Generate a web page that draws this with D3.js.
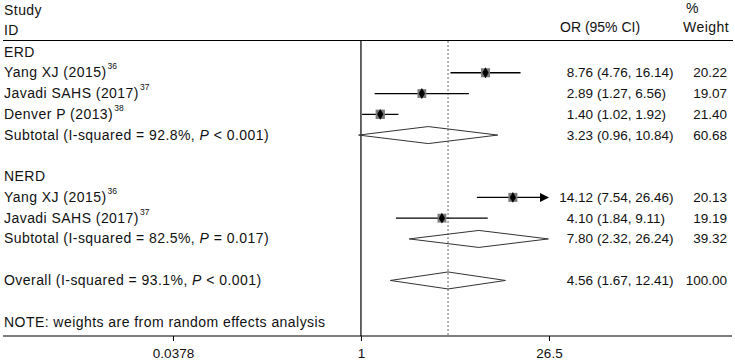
<!DOCTYPE html>
<html>
<head>
<meta charset="utf-8">
<script src="https://cdn.jsdelivr.net/npm/d3@7"></script>
<style>
  body { margin: 0; background: #fff; }
  svg text { font-family: "Liberation Sans", Arial, sans-serif; font-size: 14px; fill: #111; }
  .lbl { letter-spacing: 0.45px; }
  .num { font-size: 13.5px; }
</style>
</head>
<body>
<div class="content"></div>
<script>
const SVGWIDTH = 735
const SVGHEIGHT = 360

// row labels (row index = position from top, blank rows left out)
const rowIndex = [0, 1, 2, 3, 4, 6, 7, 8, 9, 11, 13];
const rowLabels = ["ERD", "Yang XJ (2015)", "Javadi SAHS (2017)", "Denver P (2013)",
  "Subtotal (I-squared = 92.8%, ", "NERD", "Yang XJ (2015)", "Javadi SAHS (2017)",
  "Subtotal (I-squared = 82.5%, ", "Overall (I-squared = 93.1%, ",
  "NOTE: weights are from random effects analysis"];
const rowRefs = ["", "36", "37", "38", "", "", "36", "37", "", "", ""];
const rowPText = ["", "", "", "", " < 0.001)", "", "", "", " = 0.017)", " < 0.001)", ""];
// "study" | "pooled" | "header" | "note"
const rowType = ["header", "study", "study", "study", "pooled", "header", "study", "study", "pooled", "pooled", "note"];

// estimates
const orEst = [null, 8.76, 2.89, 1.40, 3.23, null, 14.12, 4.10, 7.80, 4.56, null];
const orLow = [null, 4.76, 1.27, 1.02, 0.96, null, 7.54, 1.84, 2.32, 1.67, null];
const orHigh = [null, 16.14, 6.56, 1.92, 10.84, null, 26.46, 9.11, 26.24, 12.41, null];
// CI drawn with an arrow (runs past the plotted range)
const ciArrow = [false, false, false, false, false, false, true, false, false, false, false];
const orText = ["", "8.76", "2.89", "1.40", "3.23", "", "14.12", "4.10", "7.80", "4.56", ""];
const ciText = ["", "(4.76, 16.14)", "(1.27, 6.56)", "(1.02, 1.92)", "(0.96, 10.84)", "",
  "(7.54, 26.46)", "(1.84, 9.11)", "(2.32, 26.24)", "(1.67, 12.41)", ""];
const weights = ["", "20.22", "19.07", "21.40", "60.68", "", "20.13", "19.19", "39.32", "100.00", ""];

const xTicks = [0.0378, 1, 26.5];
const xTickLabels = ["0.0378", "1", "26.5"];
const overallOR = 4.56;

const svg = d3.select(".content").append("svg")
  .attr("width", SVGWIDTH).attr("height", SVGHEIGHT);

const xscale = d3.scaleLog().domain([0.0378, 26.5]).range([173, 549]);
const yscale = d3.scaleLinear().domain([0, 13]).range([52, 322]);

const rows = rowIndex.map((r, i) => ({
  r: r, label: rowLabels[i], ref: rowRefs[i], ptext: rowPText[i], type: rowType[i],
  est: orEst[i], lo: orLow[i], hi: orHigh[i], arrow: ciArrow[i],
  estText: orText[i], ci: ciText[i], w: weights[i]
}));

// column headers
const hdr = svg.append("g");
hdr.append("text").attr("class", "lbl").attr("x", 4).attr("y", 15).text("Study");
hdr.append("text").attr("class", "lbl").attr("x", 4).attr("y", 35).text("ID");
hdr.append("text").attr("x", 560).attr("y", 32).text("OR (95% CI)");
hdr.append("text").attr("x", 686).attr("y", 13).text("%");
hdr.append("text").attr("class", "lbl").attr("x", 683).attr("y", 32).text("Weight");

// frame lines
svg.append("line").attr("x1", 3).attr("x2", 733).attr("y1", 40.5).attr("y2", 40.5)
  .attr("stroke", "#000").attr("stroke-width", 1.2);
svg.append("line").attr("x1", xscale(1)).attr("x2", xscale(1)).attr("y1", 40).attr("y2", 336)
  .attr("stroke", "#000").attr("stroke-width", 1.2);
svg.append("line").attr("x1", xscale(overallOR)).attr("x2", xscale(overallOR)).attr("y1", 41).attr("y2", 336)
  .attr("stroke", "#666").attr("stroke-width", 1).attr("stroke-dasharray", "2,2");

// x axis
const xaxis = d3.axisBottom(xscale).tickValues(xTicks).tickSize(5)
  .tickFormat((d, i) => xTickLabels[i]);
const axg = svg.append("g").attr("transform", "translate(0,336)").call(xaxis);
axg.select(".domain").remove();
axg.selectAll(".tick line").attr("stroke", "#000");
axg.selectAll(".tick text").attr("dy", "1.05em").style("font-size", "13.5px")
  .style("font-family", "'Liberation Sans', Arial, sans-serif").attr("fill", "#111");
svg.append("line").attr("x1", 3).attr("x2", 732).attr("y1", 336).attr("y2", 336)
  .attr("stroke", "#000").attr("stroke-width", 1.2);

// left labels
const lab = svg.append("g").selectAll("text").data(rows).join("text")
  .attr("class", "lbl")
  .attr("x", 4).attr("y", d => yscale(d.r) + 4.5);
lab.append("tspan").text(d => d.label);
lab.filter(d => d.ptext !== "").append("tspan").style("font-style", "italic").text("P");
lab.filter(d => d.ptext !== "").append("tspan").text(d => d.ptext);
lab.filter(d => d.ref !== "").append("tspan")
  .attr("dy", -8).attr("dx", 1).style("font-size", "8.5px").style("letter-spacing", "0px").text(d => d.ref);

// study CI lines
const studies = rows.filter(d => d.type === "study");
const maxX = xscale.domain()[1];
svg.append("g").selectAll("line").data(studies).join("line")
  .attr("x1", d => xscale(d.lo))
  .attr("x2", d => d.arrow ? xscale(maxX) - 7 : xscale(d.hi))
  .attr("y1", d => yscale(d.r)).attr("y2", d => yscale(d.r))
  .attr("stroke", "#000").attr("stroke-width", 1.3);

// arrow heads for CIs that run off the scale
svg.append("g").selectAll("path").data(studies.filter(d => d.arrow)).join("path")
  .attr("d", d => {
    const x = xscale(maxX), y = yscale(d.r);
    return `M${x},${y}L${x - 9},${y - 4.5}L${x - 9},${y + 4.5}Z`;
  })
  .attr("fill", "#000");

// weight boxes
const boxSize = d3.scaleSqrt().domain([0, 20]).range([0, 9]);
svg.append("g").selectAll("rect").data(studies).join("rect")
  .attr("x", d => xscale(d.est) - boxSize(+d.w) / 2)
  .attr("y", d => yscale(d.r) - boxSize(+d.w) / 2)
  .attr("width", d => boxSize(+d.w)).attr("height", d => boxSize(+d.w))
  .attr("fill", "#7a7a7a");

// point estimates
svg.append("g").selectAll("path").data(studies).join("path")
  .attr("transform", d => `translate(${xscale(d.est)},${yscale(d.r)})`)
  .attr("d", d3.symbol().type(d3.symbolDiamond).size(34))
  .attr("fill", "#000");

// pooled diamonds
svg.append("g").selectAll("path").data(rows.filter(d => d.type === "pooled")).join("path")
  .attr("d", d => {
    const y = yscale(d.r);
    return `M${xscale(d.lo)},${y}L${xscale(d.est)},${y - 8.5}L${xscale(d.hi)},${y}L${xscale(d.est)},${y + 8.5}Z`;
  })
  .attr("fill", "none").attr("stroke", "#333").attr("stroke-width", 1);

// right columns
const withEst = rows.filter(d => d.estText !== "");
svg.append("g").selectAll("text").data(withEst).join("text")
  .attr("class", "num")
  .attr("x", 593).attr("y", d => yscale(d.r) + 4.5)
  .attr("text-anchor", "end").text(d => d.estText);
svg.append("g").selectAll("text").data(withEst).join("text")
  .attr("class", "num")
  .attr("x", 597).attr("y", d => yscale(d.r) + 4.5)
  .text(d => d.ci);
svg.append("g").selectAll("text").data(withEst).join("text")
  .attr("class", "num")
  .attr("x", 727).attr("y", d => yscale(d.r) + 4.5)
  .attr("text-anchor", "end").text(d => d.w);
</script>
</body>
</html>
